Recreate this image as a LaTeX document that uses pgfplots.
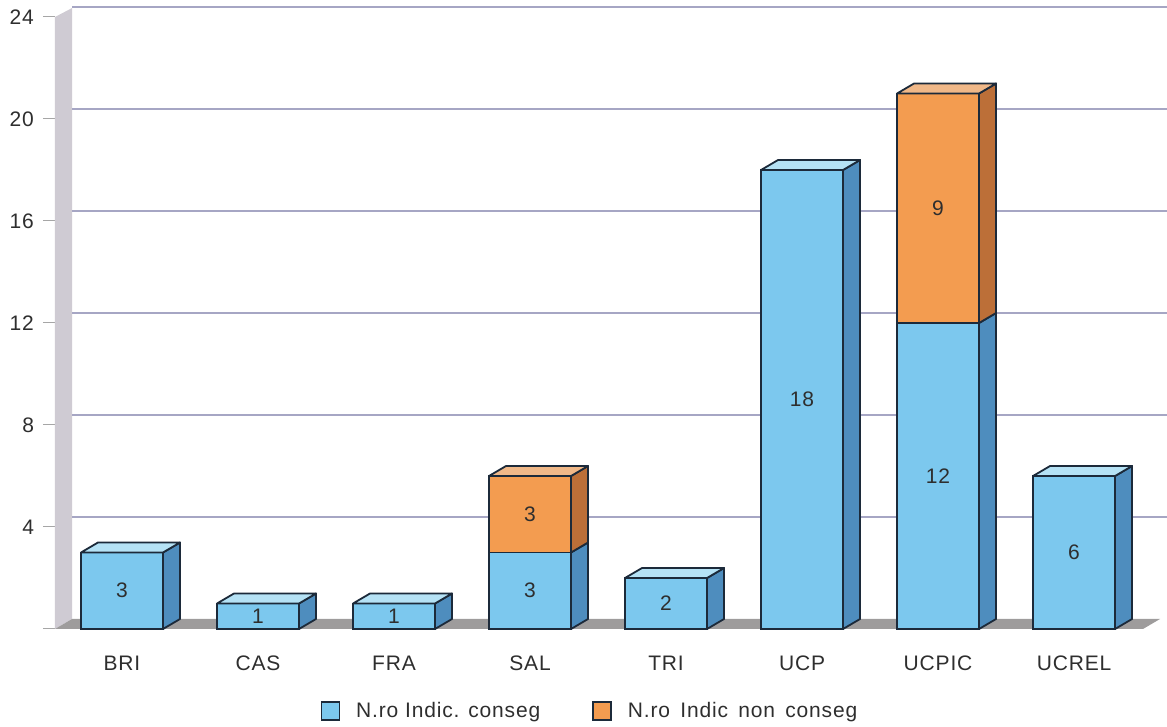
\documentclass[border=0pt]{standalone}
\usepackage{pgfplots}
\pgfplotsset{compat=1.18}
\usepackage{fontspec}
\setmainfont[LetterSpace=4]{Liberation Sans}

\definecolor{bluefront}{HTML}{7CC8EE}
\definecolor{blueside}{HTML}{4E8DBE}
\definecolor{bluetop}{HTML}{B5E2F5}
\definecolor{orangefront}{HTML}{F39C50}
\definecolor{orangeside}{HTML}{BC6F38}
\definecolor{orangetop}{HTML}{F0B888}
\definecolor{edge}{HTML}{1C2A3A}
\definecolor{wall}{HTML}{CFCBD3}
\definecolor{floorgray}{HTML}{9E9C9C}
\definecolor{gridcol}{HTML}{A6A6C4}
\definecolor{txt}{HTML}{2E2E2E}

% depth of the 3d effect in data units (17px, 10px)
\newcommand{\dx}{0.125}
\newcommand{\dy}{0.392}
\newcommand{\hw}{0.3015}

% side face: center, y from, y to, colour
\newcommand{\sideface}[4]{%
  \pgfmathsetmacro{\xa}{#1+\hw}
  \pgfmathsetmacro{\xb}{#1+\hw+\dx}
  \pgfmathsetmacro{\ya}{#2+\dy}
  \pgfmathsetmacro{\yb}{#3+\dy}
  \addplot[sharp plot, stack plots=false, forget plot, draw=edge, fill=#4, line width=0.9pt, line join=round]
    coordinates {(\xa,#2) (\xb,\ya) (\xb,\yb) (\xa,#3) (\xa,#2)};
}
% top face: center, y, colour
\newcommand{\topface}[3]{%
  \pgfmathsetmacro{\xa}{#1-\hw}
  \pgfmathsetmacro{\xb}{#1+\hw}
  \pgfmathsetmacro{\xc}{#1-\hw+\dx}
  \pgfmathsetmacro{\xd}{#1+\hw+\dx}
  \pgfmathsetmacro{\yb}{#2+\dy}
  \addplot[sharp plot, stack plots=false, forget plot, draw=edge, fill=#3, line width=0.9pt, line join=round]
    coordinates {(\xa,#2) (\xc,\yb) (\xd,\yb) (\xb,#2) (\xa,#2)};
}
\newcommand{\gridat}[1]{%
  \addplot[sharp plot, stack plots=false, forget plot, draw=gridcol, line width=0.6pt]
    coordinates {(-0.3676,#1) (7.684,#1)};
}

\begin{document}
\begin{tikzpicture}
\useasboundingbox (-27.5pt,-49pt) rectangle (556pt,314.5pt);
\begin{axis}[
    scale only axis,
    width=544pt,
    height=306pt,
    xmin=-0.4926, xmax=7.507,
    ymin=0, ymax=24,
    clip=false,
    ybar stacked,
    reverse stacked plots=false,
    bar width=41pt,
    axis line style={draw=none},
    font=\fontsize{10.5}{12}\selectfont\color{txt},
    ytick={0,4,8,12,16,20,24},
    yticklabels={{},4,8,12,16,20,24},
    xtick={0,1,2,3,4,5,6,7},
    xticklabels={BRI,CAS,FRA,SAL,TRI,UCP,UCPIC,UCREL},
    /pgf/number format/assume math mode=true,
    tick align=outside,
    ytick pos=left,
    ytick style={draw=gray!70, line width=0.5pt},
    xtick style={draw=none},
    major tick length=6pt,
    xticklabel style={yshift=-4pt},
    yticklabel style={xshift=-1pt},
    legend columns=2,
    legend style={at={(0.4926,-0.134)}, anchor=center, draw=none, fill=none,
      font=\fontsize{10.5}{12}\selectfont\color{txt},
      /tikz/column 1/.style={column sep=6pt},
      /tikz/column 2/.style={column sep=24pt},
      /tikz/column 3/.style={column sep=6pt}},
    legend image code/.code={
      \draw[#1, draw=edge, line width=0.8pt] (0pt,-4.5pt) rectangle (9pt,4.5pt);
    },
    point meta=explicit symbolic,
    every node near coord/.style={anchor=center, font=\fontsize{10.5}{12}\selectfont\color{txt}},
]

% back wall and floor
\addplot[sharp plot, stack plots=false, forget plot, draw=none, fill=wall]
  coordinates {(-0.4926,0) (-0.3676,0.392) (-0.3676,24.35) (-0.4926,24) (-0.4926,0)};
\addplot[sharp plot, stack plots=false, forget plot, draw=none, fill=floorgray]
  coordinates {(-0.4926,0) (-0.3676,0.392) (7.632,0.392) (7.507,0) (-0.4926,0)};
\gridat{4.392}
\gridat{8.392}
\gridat{12.392}
\gridat{16.392}
\gridat{20.392}
\gridat{24.392}

% front faces
\addplot[draw=edge, fill=bluefront, line width=0.9pt, nodes near coords] coordinates
  {(0,3)[3] (1,1)[1] (2,1)[1] (3,3)[3] (4,2)[2] (5,18)[18] (6,12)[12] (7,6)[6]};
\addplot[draw=edge, fill=orangefront, line width=0.9pt, nodes near coords] coordinates
  {(0,0)[{}] (1,0)[{}] (2,0)[{}] (3,3)[3] (4,0)[{}] (5,0)[{}] (6,9)[9] (7,0)[{}]};
\legend{N.ro Indic. conseg, N.ro\hspace{1.8pt} Indic\hspace{1.8pt} non\hspace{1.8pt} conseg}

% side faces
\sideface{0}{0}{3}{blueside}
\sideface{1}{0}{1}{blueside}
\sideface{2}{0}{1}{blueside}
\sideface{3}{0}{3}{blueside}
\sideface{3}{3}{6}{orangeside}
\sideface{4}{0}{2}{blueside}
\sideface{5}{0}{18}{blueside}
\sideface{6}{0}{12}{blueside}
\sideface{6}{12}{21}{orangeside}
\sideface{7}{0}{6}{blueside}

% top faces
\topface{0}{3}{bluetop}
\topface{1}{1}{bluetop}
\topface{2}{1}{bluetop}
\topface{3}{6}{orangetop}
\topface{4}{2}{bluetop}
\topface{5}{18}{bluetop}
\topface{6}{21}{orangetop}
\topface{7}{6}{bluetop}
\end{axis}
\end{tikzpicture}
\end{document}
